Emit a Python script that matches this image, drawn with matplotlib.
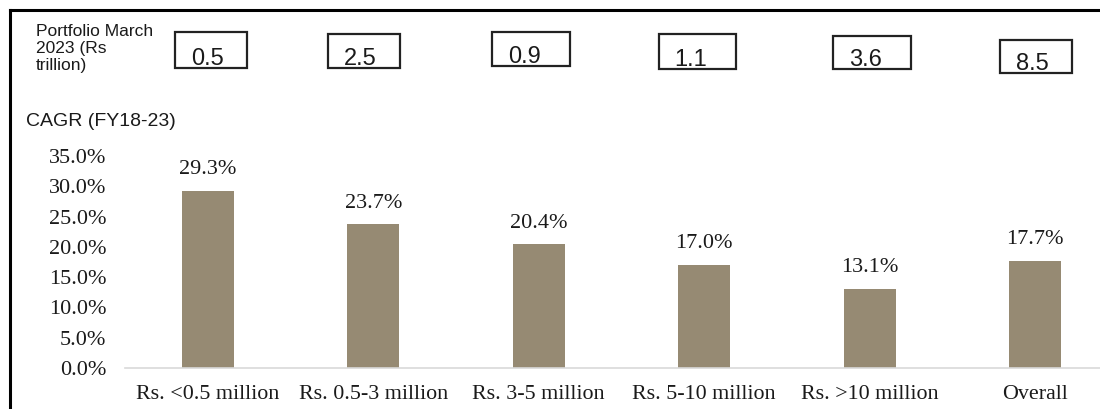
import matplotlib
matplotlib.use("Agg")
import matplotlib.pyplot as plt
from matplotlib.lines import Line2D
from matplotlib.patches import Rectangle

# Chart data
categories = ["Rs. <0.5 million", "Rs. 0.5-3 million", "Rs. 3-5 million",
              "Rs. 5-10 million", "Rs. >10 million", "Overall"]
cagr_pct = [29.3, 23.7, 20.4, 17.0, 13.1, 17.7]
portfolio_trn = [0.5, 2.5, 0.9, 1.1, 3.6, 8.5]
y_ticks = [0, 5, 10, 15, 20, 25, 30, 35]

W, H = 1100, 409
fig = plt.figure(figsize=(W / 100, H / 100), dpi=100)
fig.patch.set_facecolor("white")

serif = ["Liberation Serif", "DejaVu Serif"]
sans = ["Liberation Sans", "DejaVu Sans"]
bar_color = "#968a73"
ink = "#1a1a1a"

# Plot area: 0 % sits at y=368 px, 35 % at y=156 px; one category = 165.5 px
cat_px = 165.5
ax_left, ax_bottom_px, ax_top_px = 125, 368, 156
ax = fig.add_axes([ax_left / W, (H - ax_bottom_px) / H,
                   cat_px * len(categories) / W,
                   (ax_bottom_px - ax_top_px) / H])
x = list(range(len(categories)))
ax.bar(x, cagr_pct, width=0.314, color=bar_color, zorder=2)
ax.set_xlim(-0.5, len(categories) - 0.5)
ax.set_ylim(0, 35)

ax.set_yticks(y_ticks)
ax.set_yticklabels([f"{v:.1f}%" for v in y_ticks], fontfamily=serif, fontsize=16)
ax.set_xticks(x)
ax.set_xticklabels(categories, fontfamily=serif, fontsize=15.8)
ax.tick_params(axis="y", length=0, pad=13.5, colors=ink)
ax.tick_params(axis="x", length=0, pad=12.5, colors=ink)
for side in ("left", "right", "top"):
    ax.spines[side].set_visible(False)
ax.spines["bottom"].set_color("#d9d9d9")
ax.spines["bottom"].set_linewidth(1.2)

for xi, v in zip(x, cagr_pct):
    ax.annotate(f"{v:.1f}%", (xi, v), xytext=(0, 12), textcoords="offset points",
                ha="center", va="baseline", fontfamily=serif, fontsize=16,
                color=ink)

# Portfolio size boxes above each category
box_dx = [3, -9, -8, -7, 2, 1]          # horizontal nudges, px
box_top = [32, 34, 32, 34, 36, 40]      # px from top
box_w = [72, 72, 78, 77, 78, 72]
box_h = [36, 34, 34, 35, 33, 33]
for xi, val, dx, top, bw, bh in zip(x, portfolio_trn, box_dx, box_top, box_w, box_h):
    cx = ax_left + (xi + 0.5) * cat_px + dx
    left = cx - bw / 2
    fig.add_artist(Rectangle((left / W, (H - top - bh) / H), bw / W, bh / H,
                             transform=fig.transFigure, fill=False,
                             edgecolor="#222222", linewidth=1.6))
    fig.text((left + 16) / W, (H - (top + bh - 3)) / H, f"{val}",
             ha="left", va="baseline", fontfamily=sans, fontsize=17,
             color=ink)

fig.text(36 / W, (H - 24) / H, "Portfolio March\n2023 (Rs\ntrillion)",
         ha="left", va="top", fontfamily=sans, fontsize=12.5,
         linespacing=1.18, color=ink)
fig.text(26 / W, (H - 121) / H, "CAGR (FY18-23)", ha="left", va="center",
         fontfamily=sans, fontsize=14, color=ink)

# Frame lines on the left and top
fig.add_artist(Line2D([9.5 / W, 9.5 / W], [0, (H - 9.5) / H], transform=fig.transFigure,
                      color="black", linewidth=2.2, solid_capstyle="projecting"))
fig.add_artist(Line2D([9.5 / W, 1], [(H - 9.5) / H, (H - 9.5) / H], transform=fig.transFigure,
                      color="black", linewidth=2.2, solid_capstyle="projecting"))

fig.savefig("out.png", dpi=100, facecolor="white")
